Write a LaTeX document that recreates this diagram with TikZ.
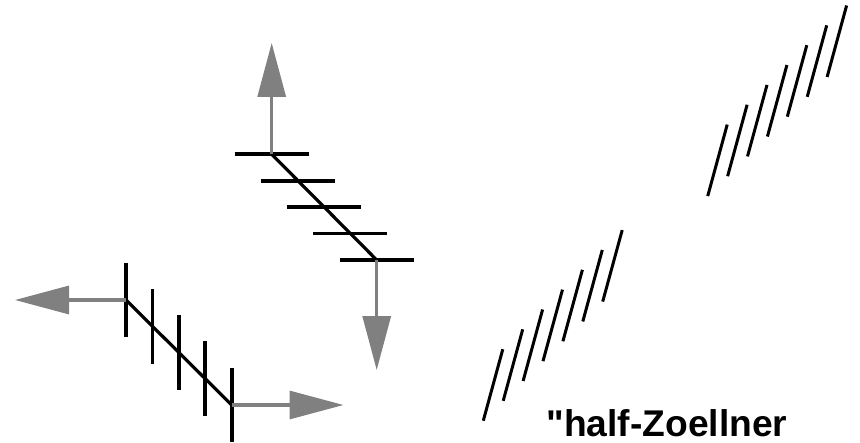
\documentclass[tikz,border=0pt]{standalone}
\usepackage{fontspec}
\setmainfont{Liberation Sans}[Ligatures=TeXOff]
\usepackage{tikz}
\usetikzlibrary{arrows.meta,positioning,calc}
\definecolor{arrowgray}{RGB}{128,128,128}

\begin{document}
\begin{tikzpicture}[x=0.5pt,y=-0.5pt,
  bar/.style={line width=1.9pt,black},
  spine/.style={line width=1.6pt,black},
  slant/.style={line width=1.5pt,black},
  garr/.style={-{Triangle[length=27pt,width=14pt]},line width=1.6pt,arrowgray}]
\useasboundingbox (0,0) rectangle (860,443);
% upper fin: horizontal bars
\coordinate (uA) at (271.7,154.3);
\coordinate (uB) at (376.7,260);
\draw[spine] (uA) -- (uB);
\foreach \i in {0,...,4}
  \draw[bar] ($(uA)!\i/4!(uB)+(-37,0)$) -- ++(74,0);
\coordinate (uTop) at (271.7,43);
\coordinate (uBot) at (376.7,370);
\draw[garr] (uA) -- (uTop);
\draw[garr] (uB) -- (uBot);
% lower fin: vertical bars
\coordinate (lA) at (126,300);
\coordinate (lB) at (231.7,405);
\draw[spine] (lA) -- (lB);
\foreach \i in {0,...,4}
  \draw[bar] ($(lA)!\i/4!(lB)+(0,-37.3)$) -- ++(0,74.6);
\coordinate (lLeft) at (15,300);
\coordinate (lRight) at (343.5,405);
\draw[garr] (lA) -- (lLeft);
\draw[garr] (lB) -- (lRight);
% slanted line groups
\foreach \gx/\gy in {0/0,224.4/-224.6}
  \foreach \k in {0,...,6}
    \draw[slant] (483.3+\gx+19.9*\k,420.7+\gy-19.85*\k) -- ++(19.5,-71.5);
\node[font=\fontsize{18.6}{20}\selectfont\bfseries,anchor=base west,inner sep=0pt] (caption) at (546,436.7) {"half-Zoellner};
\end{tikzpicture}
\end{document}
